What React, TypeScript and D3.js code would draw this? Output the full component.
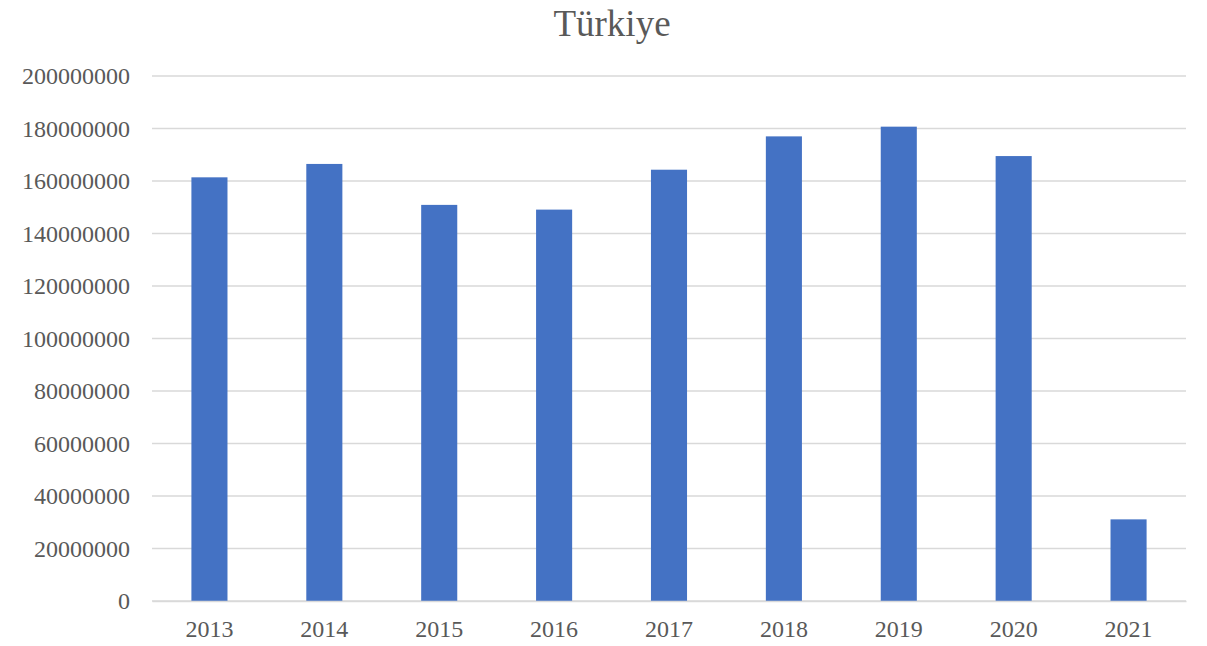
import React, { useEffect, useRef } from 'react';
import * as d3 from 'd3';

const years = ['2013', '2014', '2015', '2016', '2017', '2018', '2019', '2020', '2021'];
const values = [161400000, 166500000, 150900000, 149100000, 164300000, 177000000, 180700000, 169500000, 31100000];
const yTicks = [0, 20000000, 40000000, 60000000, 80000000, 100000000, 120000000, 140000000, 160000000, 180000000, 200000000];

const W = 1207;
const H = 646;

function BarChart() {
  const ref = useRef<SVGSVGElement>(null);

  useEffect(() => {
    const svg = d3.select(ref.current);
    svg.selectAll('*').remove();

    const x = d3.scaleBand().domain(years).range([152, 1186]).paddingInner(0.686).paddingOuter(0.343);
    const y = d3.scaleLinear().domain([0, 200000000]).range([601, 76]);

    svg.append('text')
      .attr('x', 612)
      .attr('y', 36)
      .attr('text-anchor', 'middle')
      .style('font-family', '"Liberation Serif", "Times New Roman", serif')
      .style('font-size', '37px')
      .style('fill', '#595959')
      .text('Türkiye');

    // gridlines
    svg.append('g').selectAll('line')
      .data(yTicks)
      .enter()
      .append('line')
      .attr('x1', 152)
      .attr('x2', 1186)
      .attr('y1', d => y(d))
      .attr('y2', d => y(d))
      .style('stroke', '#d9d9d9')
      .style('stroke-width', 1.5);

    const yAxis = d3.axisLeft(y).tickValues(yTicks).tickSize(0).tickPadding(0).tickFormat(d => String(d));
    const gy = svg.append('g')
      .attr('transform', 'translate(130,0)')
      .call(yAxis);
    gy.select('.domain').remove();
    gy.selectAll('text')
      .style('font-family', '"Liberation Serif", "Times New Roman", serif')
      .style('font-size', '24px')
      .style('fill', '#595959');

    svg.append('g').selectAll('rect')
      .data(values)
      .enter()
      .append('rect')
      .attr('x', (d, i) => x(years[i]) as number)
      .attr('width', x.bandwidth())
      .attr('y', d => y(d))
      .attr('height', d => y(0) - y(d))
      .style('fill', '#4472c4');

    const xAxis = d3.axisBottom(x).tickSize(0).tickPadding(19);
    const gx = svg.append('g')
      .attr('transform', 'translate(0,601)')
      .call(xAxis);
    gx.select('.domain').style('stroke', '#d9d9d9').style('stroke-width', 1.5);
    gx.selectAll('text')
      .style('font-family', '"Liberation Serif", "Times New Roman", serif')
      .style('font-size', '24px')
      .style('fill', '#595959');
  }, []);

  return <svg ref={ref} width={W} height={H} style={{ display: 'block', background: '#fff' }} />;
}

export default function App() {
  useEffect(() => {
    document.body.style.margin = '0';
  }, []);
  return <BarChart />;
}
